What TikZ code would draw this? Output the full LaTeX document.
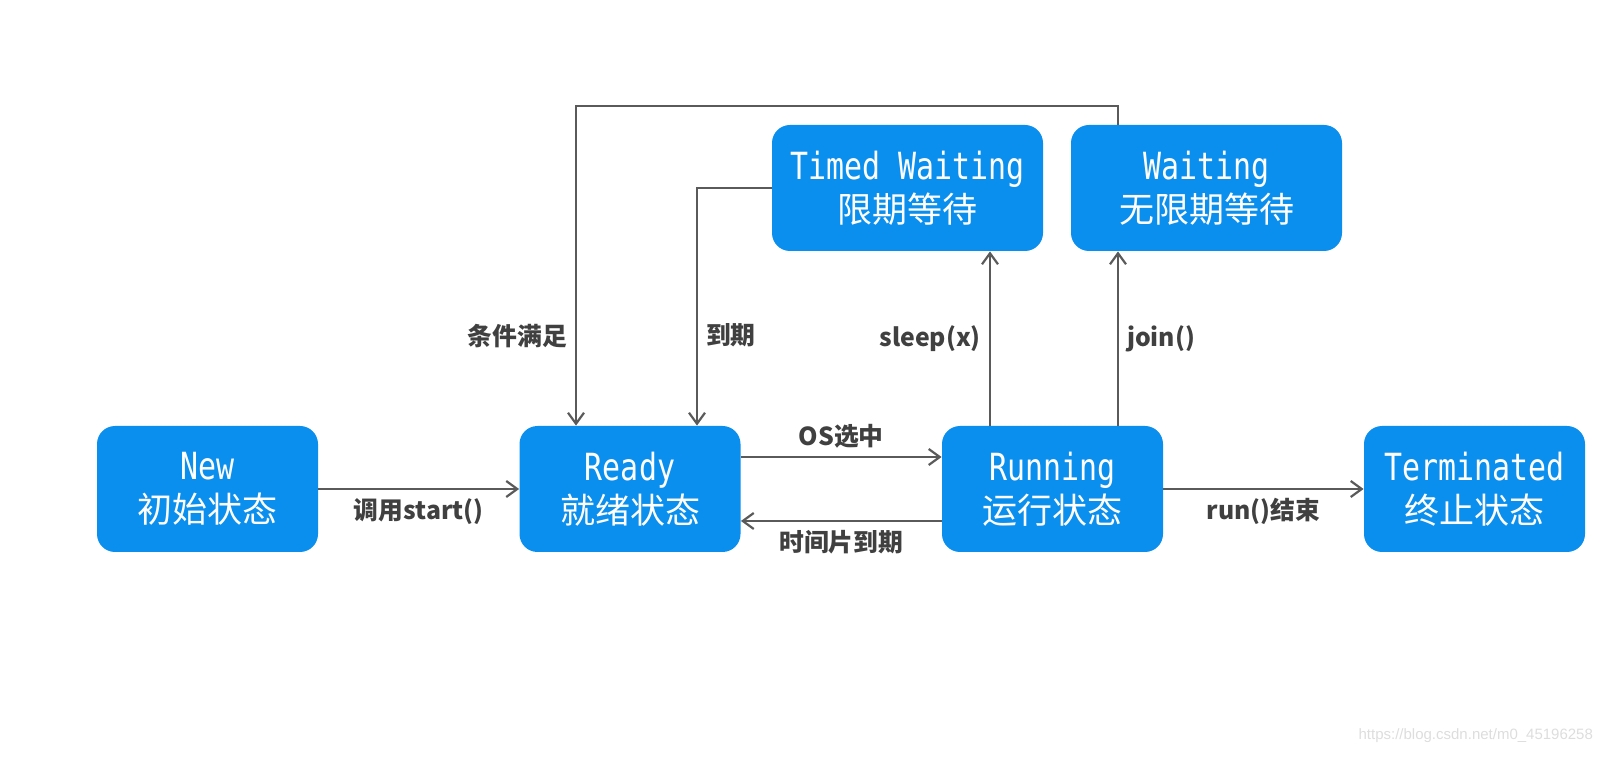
\documentclass[tikz,border=0pt]{standalone}
\usepackage{fontspec}
\usetikzlibrary{arrows.meta,positioning}
\setmainfont{Noto Sans CJK SC}
\newfontfamily\cjk{Noto Sans CJK SC}
\newfontfamily\stateMono[FakeStretch=0.8]{DejaVu Sans Mono}
\newfontfamily\urlFont{Liberation Sans}
\definecolor{myblue}{HTML}{0A8FEE}
\definecolor{mygrey}{HTML}{5A5A5A}
\definecolor{mytext}{HTML}{404040}
\definecolor{myurlgrey}{HTML}{DDDDDD}
\tikzset{
  stateBox/.style={rounded corners=9pt,fill=myblue,text=white,minimum width=110.5pt,
      minimum height=63pt,inner sep=0pt,align=center,font=\fontsize{17.5}{21.5}\selectfont},
  wideStateBox/.style={stateBox,minimum width=135.5pt},
  flowEdge/.style={draw=mygrey,line width=1.1pt,
      -{Straight Barb[length=5.5pt,width=8pt,line width=1.1pt]}},
  edgeLabel/.style={text=mytext,font=\bfseries\fontsize{12.4}{14}\selectfont,inner sep=4pt},
}
\newcommand{\stateText}[2]{{\stateMono\fontsize{18.7}{21.5}\selectfont #1}\\{\cjk #2}}

\begin{document}
\begin{tikzpicture}[x=0.5pt,y=0.5pt]
  \useasboundingbox (0,0) rectangle (1608,756);

  % states
  \node[stateBox] at (207.5,267) (new) {\stateText{New}{初始状态}};
  \node[stateBox] at (630,267) (ready) {\stateText{Ready}{就绪状态}};
  \node[stateBox] at (1052.5,267) (running) {\stateText{Running}{运行状态}};
  \node[stateBox] at (1474.5,267) (terminated) {\stateText{Terminated}{终止状态}};
  \node[wideStateBox] at (907.5,568) (timed) {\stateText{Timed Waiting}{限期等待}};
  \node[wideStateBox] at (1206.5,568) (waiting) {\stateText{Waiting}{无限期等待}};

  % transitions
  \path (new) edge[flowEdge] node[edgeLabel,below] {调用start()} (ready);
  \path ([yshift=16pt]ready.east) edge[flowEdge] node[edgeLabel,above] {OS选中} ([yshift=16pt]running.west);
  \path ([yshift=-16pt]running.west) edge[flowEdge] node[edgeLabel,below] {时间片到期} ([yshift=-16pt]ready.east);
  \path (running) edge[flowEdge] node[edgeLabel,below] {run()结束} (terminated);
  \path ([xshift=-31.25pt]running.north) edge[flowEdge] node[edgeLabel,left] {sleep(x)} ([xshift=-31.25pt]running.north |- timed.south);
  \path ([xshift=32.75pt]running.north) edge[flowEdge] node[edgeLabel,right] {join()} ([xshift=32.75pt]running.north |- waiting.south);

  \coordinate (backTop) at (576,650);
  \draw[flowEdge] ([xshift=-44.25pt]waiting.north) |- (backTop) -- node[edgeLabel,left,pos=0.72] {条件满足} (backTop |- ready.north);
  \draw[flowEdge] (timed.west) -| node[edgeLabel,right,pos=0.81] {到期} ([xshift=33.5pt]ready.north);

  \node[text=myurlgrey,font=\urlFont\fontsize{7.5}{9}\selectfont,anchor=east] at (1600,20) (url) {https://blog.csdn.net/m0\_45196258};
\end{tikzpicture}
\end{document}
